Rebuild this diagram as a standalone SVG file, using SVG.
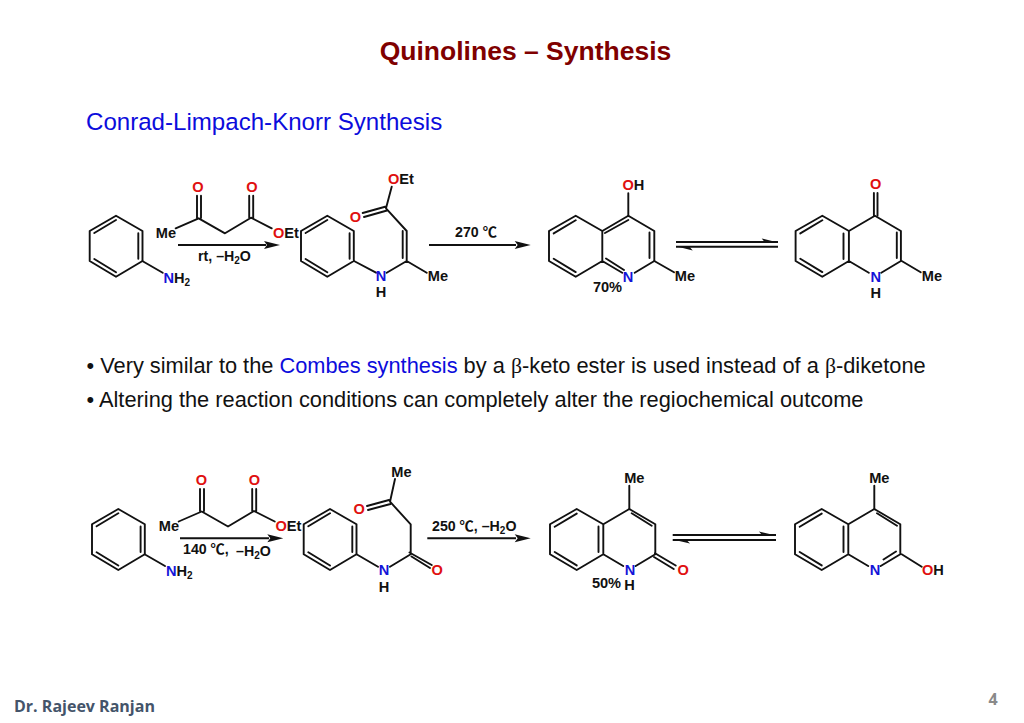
<svg xmlns="http://www.w3.org/2000/svg" width="1024" height="723" viewBox="0 0 1024 723">
<style>
text{font-family:"Liberation Sans","Noto Sans CJK SC",sans-serif}
.b{fill:none;stroke:#111;stroke-width:1.9;stroke-linecap:round;stroke-linejoin:round}
.ar{fill:none;stroke:#111;stroke-width:1.9}
.hd{fill:#111;stroke:none}
.l{font-size:14.600px;font-weight:bold;fill:#111;text-anchor:middle}
.ls{font-size:14.600px;font-weight:bold;fill:#111}
.c{font-size:14.200px}
.o{fill:#e01010}
.n{fill:#1414d8}
.t{font-size:21.800px;fill:#111}
.g{font-family:"Liberation Serif",serif}
.s{font-size:10px}
</style>
<defs>
<path id="ring" class="b" d="M0 0L26.500 15.300V45.300L0 61L-26.300 45.300V15.300ZM0 4.300L-21.700 17.300M22.300 17.500V43M-21.700 43.300L0 56.500"/>
<path id="qbase" class="b" d="M0 0L26.600 15.300V45.300L0 61L-26.700 45.300V15.300ZM26.600 15.300L52.600 0L78.600 15.300V45.300M26.600 45.300L46.500 57M78.600 45.300L59 57M-22 17.700L0 4.600M-22 43L0 56.400"/>
</defs>
<rect width="1024" height="723" fill="#fff"/>
<g id="title"><text x="525.500" y="60" font-size="26.500" font-weight="bold" fill="#7f0000" text-anchor="middle">Quinolines – Synthesis</text></g>
<g id="subtitle"><text x="86" y="130" font-size="24.100" fill="#0c0cdc">Conrad-Limpach-Knorr Synthesis</text></g>
<g id="bullets">
<text class="t" x="86.500" y="372.500">• Very similar to the <tspan fill="#0c0cdc">Combes synthesis</tspan> by a <tspan class="g">β</tspan>-keto ester is used instead of a <tspan class="g">β</tspan>-diketone</text>
<text class="t" x="86.500" y="407">• Altering the reaction conditions can completely alter the regiochemical outcome</text>
</g>
<g id="connectors">
<path class="ar" d="M178 245H266M429 245H516M180 538.300H269M427.300 538.300H516"/>
<path class="hd" d="M280 245L264 241L267 245L264 249ZM530.700 245L514.700 241L517.700 245L514.700 249ZM283.300 538.300L267.300 534.300L270.300 538.300L267.300 542.300ZM530.700 538.300L514.700 534.300L517.700 538.300L514.700 542.300Z"/>
<path class="ar" d="M676 242H778M676 246.700H778M672.700 535H776M672.700 540H776"/>
<path class="hd" d="M778 242.500L761.700 238.500L765 242.500ZM676 246.300L692.700 250.500L689 246.300ZM776 535.500L759 531.500L762.500 535.500ZM672.700 539.500L690 543.500L686 539.500Z"/>
</g>
<g id="aniline-1"><use href="#ring" x="116" y="215.700"/><path class="b" d="M142.300 261L162.700 272.700"/>
<text class="ls" x="163.500" y="283"><tspan class="n">N</tspan>H<tspan class="s" dy="3">2</tspan></text></g>
<g id="ketoester-1"><path class="b" d="M175.700 228.300L198.700 218.300L225 233.300L251 217.700L271.700 228.300M197 218V195.700M201 218V195.700M249.200 217.700V195.700M253.200 217.700V195.700"/>
<text class="l o" x="198" y="192">O</text><text class="l o" x="252" y="192">O</text><text class="l" x="166" y="238">Me</text>
<text class="ls" x="273" y="238"><tspan class="o">O</tspan>Et</text></g>
<g id="label-rt"><text class="ls c" x="198" y="261">rt, –H<tspan class="s" dy="3">2</tspan><tspan dy="-3">O</tspan></text></g>
<g id="enamine"><use href="#ring" x="327.300" y="215.700"/><path class="b" d="M354 261L376 272.700M386.700 272.700L406.700 261L426.700 272.700M406.700 261V231M402.700 258V231M406.700 231L386 208.300L391.700 186.700M386 206.500L362.700 213M387 210.500L364 217"/>
<text class="l n" x="381" y="281">N</text><text class="l" x="381" y="297">H</text><text class="l" x="438" y="281">Me</text><text class="l o" x="355.500" y="221.500">O</text>
<text class="ls" x="388" y="184"><tspan class="o">O</tspan>Et</text></g>
<g id="label-270"><text class="l c" x="476" y="237">270 ℃</text></g>
<g id="hydroxyquinoline"><use href="#qbase" x="575.700" y="215.700"/><path class="b" d="M628.300 215.700V193.300M654.300 261L674 272.300M649.500 232.500V258M605 233L628.300 220M606 258.500L624 270"/>
<text class="l n" x="628" y="282">N</text><text class="l" x="685" y="281">Me</text><text class="ls" x="622.500" y="190"><tspan class="o">O</tspan>H</text><text class="l" x="607.500" y="292">70%</text></g>
<g id="quinolone"><use href="#qbase" x="822.300" y="215.700"/><path class="b" d="M873.900 215.700V193M877.500 215.700V193M901.700 261L920.700 272.300M896.800 232.500V258M843.500 233.500V259"/>
<text class="l n" x="875.700" y="282">N</text><text class="l" x="875.700" y="298">H</text><text class="l" x="932" y="281">Me</text><text class="l o" x="875.700" y="189">O</text></g>
<g id="aniline-2"><use href="#ring" x="118.300" y="509"/><path class="b" d="M144.600 554.300L165 566"/>
<text class="ls" x="166" y="576"><tspan class="n">N</tspan>H<tspan class="s" dy="3">2</tspan></text></g>
<g id="ketoester-2"><path class="b" d="M178.700 521.500L201.700 511.500L228 526.500L254 511L274.700 521.500M200 511V489M204 511V489M252.200 511V489M256.200 511V489"/>
<text class="l o" x="201.500" y="485">O</text><text class="l o" x="254.500" y="485">O</text><text class="l" x="169" y="531">Me</text>
<text class="ls" x="275.500" y="531"><tspan class="o">O</tspan>Et</text></g>
<g id="label-140"><text class="ls c" x="183" y="554">140 ℃,</text><text class="ls c" x="236" y="556">–H<tspan class="s" dy="3">2</tspan><tspan dy="-3">O</tspan></text></g>
<g id="amide"><use href="#ring" x="330" y="509"/><path class="b" d="M356.500 554.300L378 566.700M390 566.700L410.700 554.300V524.300L390 501.700L395 479M389 500L367 506M390.500 504L368 510M409.500 552.500L431.700 565M411.500 556.500L430 568"/>
<text class="l n" x="384" y="575">N</text><text class="l" x="384" y="592">H</text><text class="l o" x="437.300" y="575">O</text><text class="l o" x="359.300" y="514">O</text><text class="l" x="401.500" y="476.500">Me</text></g>
<g id="label-250"><text class="ls c" x="432" y="531">250 ℃, –H<tspan class="s" dy="3">2</tspan><tspan dy="-3">O</tspan></text></g>
<g id="quinolinone"><use href="#qbase" x="576.700" y="509"/><path class="b" d="M629.300 509V485.700M631.700 513.300L651.700 525.700M655 553.300L675.700 565.500M654 557L673.700 569M598.500 526.500V552"/>
<text class="l n" x="630" y="575">N</text><text class="l" x="629.500" y="590">H</text><text class="l o" x="683.300" y="575">O</text><text class="l" x="634.300" y="482.500">Me</text><text class="l" x="606.500" y="588">50%</text></g>
<g id="hydroxyquinoline-2"><use href="#qbase" x="821.700" y="509"/><path class="b" d="M874.300 509V485.700M877 513.300L897 525.700M901.700 554.300L921.700 566.700M896 551.500L883.500 559.500M843.500 526.500V552"/>
<text class="l n" x="875" y="575">N</text><text class="ls" x="922" y="575"><tspan class="o">O</tspan>H</text><text class="l" x="879.300" y="482.500">Me</text></g>
<g id="footer"><text x="14" y="712" font-size="16" font-weight="bold" fill="#44546a" style="font-family:'Open Sans',sans-serif">Dr. Rajeev Ranjan</text>
<text x="993" y="705" font-size="16" font-weight="bold" fill="#8a8a8a" text-anchor="middle" style="font-family:'Open Sans',sans-serif">4</text></g>
</svg>
